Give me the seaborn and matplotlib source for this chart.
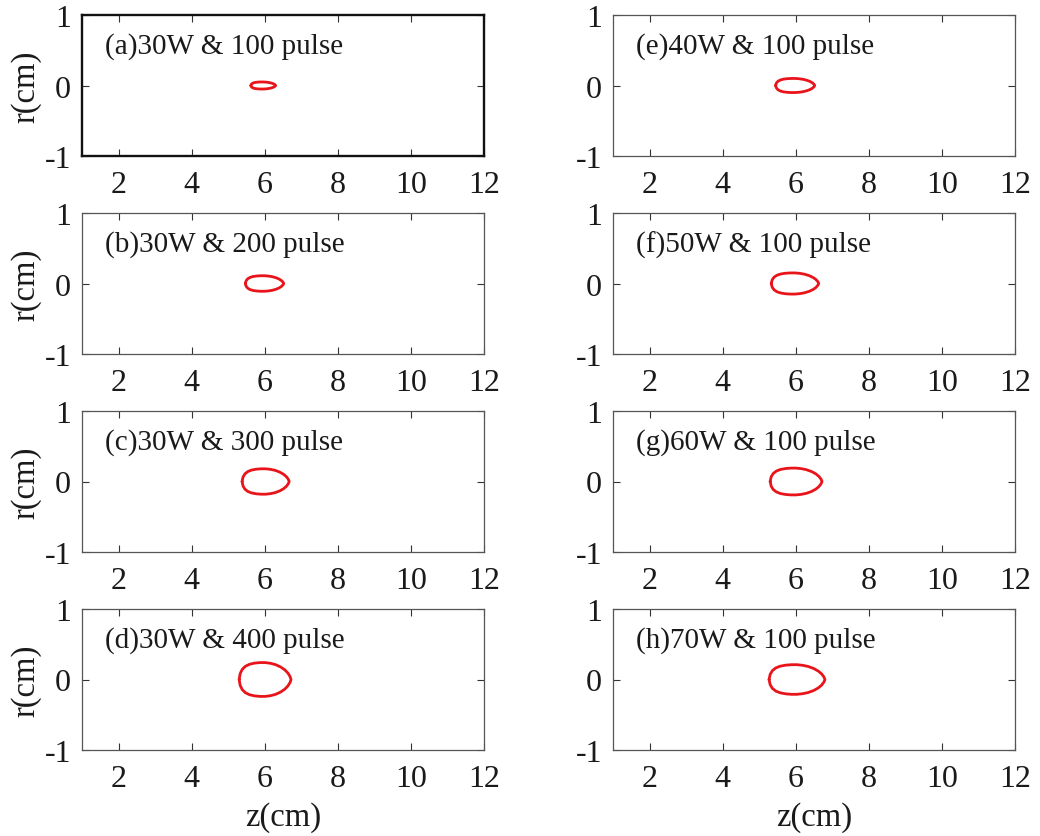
import matplotlib.pyplot as plt
import numpy as np
import pandas as pd
import seaborn as sns

# panel labels, column-major: left column (a-d), right column (e-h)
labels = [
    "(a)30W & 100 pulse",
    "(b)30W & 200 pulse",
    "(c)30W & 300 pulse",
    "(d)30W & 400 pulse",
    "(e)40W & 100 pulse",
    "(f)50W & 100 pulse",
    "(g)60W & 100 pulse",
    "(h)70W & 100 pulse",
]

# contour extents (cm)
z_min = [5.62, 5.47, 5.38, 5.30, 5.45, 5.33, 5.30, 5.27]
z_max = [6.30, 6.52, 6.67, 6.72, 6.52, 6.63, 6.72, 6.80]
r_max = [0.05, 0.11, 0.18, 0.24, 0.10, 0.15, 0.19, 0.21]

# normalised upper-half shape of the contour (rounder left, blunt point right)
shape_s = [0.0, 0.02, 0.06, 0.12, 0.20, 0.30, 0.40, 0.50, 0.60, 0.70, 0.80, 0.88, 0.94, 0.98, 1.0]
shape_h = [0.0, 0.35, 0.60, 0.78, 0.90, 0.97, 1.0, 1.0, 0.96, 0.88, 0.74, 0.57, 0.38, 0.18, 0.0]

x_ticks = [2, 4, 6, 8, 10, 12]
y_ticks = [-1, 0, 1]

sns.set_style("white")
plt.rcParams["font.family"] = ["Liberation Serif", "DejaVu Serif"]
plt.rcParams["axes.unicode_minus"] = False
plt.rcParams["text.color"] = "#1a1a1a"
plt.rcParams["axes.labelcolor"] = "#1a1a1a"

fig = plt.figure(figsize=(10.4, 8.37), dpi=100)

lefts = [82 / 1040, 613 / 1040]
bottoms = [680 / 837, 482 / 837, 284 / 837, 86 / 837]
w = 402 / 1040
h = 141 / 837

s = np.array(shape_s)
hh = np.array(shape_h)

for i, lab in enumerate(labels):
    col, row = divmod(i, 4)
    ax = fig.add_axes([lefts[col], bottoms[row], w, h])

    z = z_min[i] + s * (z_max[i] - z_min[i])
    r = hh * r_max[i]
    df = pd.DataFrame({
        "z": np.concatenate([z, z[::-1]]),
        "r": np.concatenate([r, -r[::-1]]),
    })
    sns.lineplot(data=df, x="z", y="r", sort=False, estimator=None,
                 color="#e8141a", linewidth=2.0, ax=ax)

    ax.set_xlim(1, 12)
    ax.set_ylim(-1, 1)
    ax.set_xticks(x_ticks)
    ax.set_yticks(y_ticks)
    ax.tick_params(direction="in", length=5, width=0.8, colors="#333333",
                   labelcolor="#1a1a1a", labelsize=23, top=True, right=True,
                   bottom=True, left=True)
    ax.tick_params(axis="x", pad=10)
    ax.tick_params(axis="y", pad=8)
    ax.text(1.62, 0.56, lab, fontsize=21, va="center", ha="left")

    for sp in ax.spines.values():
        if i == 0:
            sp.set_color("#111111")
            sp.set_linewidth(1.7)
        else:
            sp.set_color("#555555")
            sp.set_linewidth(0.9)

    ax.set_xlabel("z(cm)" if row == 3 else "", fontsize=23.5, labelpad=6)
    ax.set_ylabel("r(cm)" if col == 0 else "", fontsize=23.5, labelpad=2)

fig.savefig("out.png", dpi=100)
